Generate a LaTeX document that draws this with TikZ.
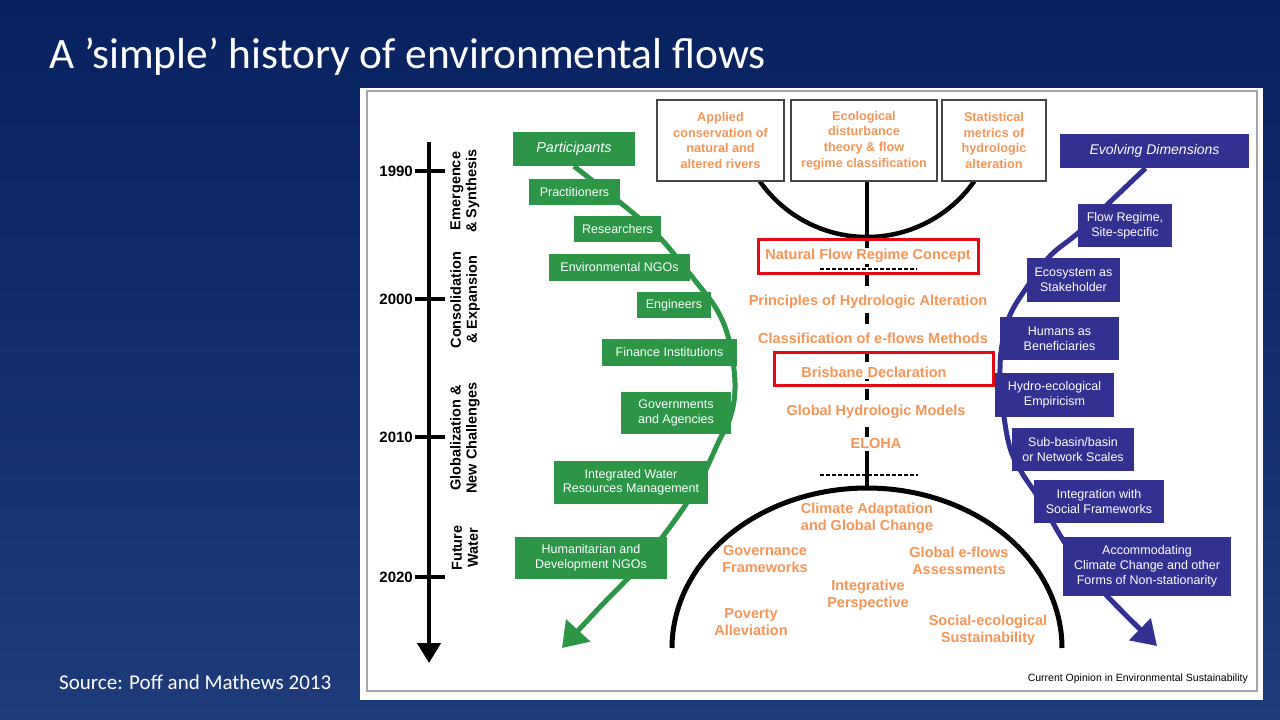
\documentclass[tikz,border=0pt]{standalone}
\usepackage{fontspec}
\setmainfont{Liberation Sans}
\newfontfamily\calib{Carlito}
\usetikzlibrary{arrows.meta}
\definecolor{gfill}{RGB}{44,150,70}
\definecolor{bfill}{RGB}{50,48,145}
\definecolor{orng}{RGB}{243,150,85}
\definecolor{redbox}{RGB}{228,10,20}
\definecolor{bgtop}{RGB}{8,34,96}
\definecolor{bgmid}{RGB}{42,78,148}
\definecolor{bgbot}{RGB}{30,60,122}
\pgfdeclarelayer{back}
\pgfdeclarelayer{mid}
\pgfsetlayers{back,mid,main}
\begin{document}
\begin{tikzpicture}[x=1pt,y=-1pt,
  gbox/.style={fill=gfill,text=white,font=\fontsize{12.5}{14.5}\selectfont,align=center,inner sep=0pt},
  bbox/.style={fill=bfill,text=white,font=\fontsize{12.5}{15}\selectfont,align=center,inner sep=0pt},
  obox/.style={draw=gray!55!black,line width=1.5,fill=white,text=orng,font=\bfseries\fontsize{12.7}{15.6}\selectfont,align=center,inner sep=0pt},
  ctext/.style={text=orng,font=\bfseries\fontsize{14.5}{17}\selectfont,fill=white,inner sep=1.5pt},
  atext/.style={text=orng,font=\bfseries\fontsize{14.5}{17}\selectfont,align=center,inner sep=0pt},
  phase/.style={rotate=90,font=\bfseries\fontsize{14.5}{16}\selectfont,align=center,inner sep=0pt},
  year/.style={anchor=east,font=\bfseries\fontsize{15}{17}\selectfont,inner sep=0pt},
  redframe/.style={draw=redbox,line width=3,inner sep=0pt},
  tick/.style={line width=4},
  bigline/.style={line width=4.5},
]
\useasboundingbox (0,0) rectangle (1280,720);
\begin{pgfonlayer}{back}
\shade[top color=bgtop,middle color=bgmid,bottom color=bgbot] (0,0) rectangle (1280,720);
\fill[white] (360,88) rectangle (1263,700);
\draw[gray!70,line width=1.2] (367,91) rectangle (1257,691);
\end{pgfonlayer}

% title and source
\node[anchor=base west,text=white,font=\calib\fontsize{43.4}{48}\selectfont,inner sep=0pt] (title) at (49,68) {A ’simple’ history of environmental flows};
\node[anchor=base west,text=white,font=\calib\fontsize{21}{24}\selectfont,inner sep=0pt] (source) at (59,689) {Source: Poff and Mathews 2013};
\node[anchor=east,font=\fontsize{10.5}{12}\selectfont,inner sep=0pt] (journal) at (1248,679) {Current Opinion in Environmental Sustainability};

% timeline
\coordinate (tlTop) at (429,142);
\coordinate (tlEnd) at (429,663);
\draw[bigline,-{Triangle[length=20pt,width=23pt]}] (tlTop) -- (tlEnd);
\foreach \yy/\lab in {171/1990,299/2000,437/2010,577/2020}{
  \coordinate (tkL\lab) at (415,\yy);
  \coordinate (tkR\lab) at (445,\yy);
  \draw[tick] (tkL\lab) -- (tkR\lab);
  \node[year] (yr\lab) at (413,\yy) {\lab};
}
\node[phase] (ph1) at (465,191) {Emergence\\\& Synthesis};
\node[phase] (ph2) at (465,300) {Consolidation\\\& Expansion};
\node[phase] (ph3) at (465,438) {Globalization \&\\New Challenges};
\node[phase] (ph4) at (465,548) {Future\\Water};

% green boxes
\node[gbox,minimum width=122,minimum height=34,font=\itshape\fontsize{14.4}{16}\selectfont] (part) at (574,149) {Participants};
\node[gbox,minimum width=91,minimum height=26] (prac) at (574.5,192) {Practitioners};
\node[gbox,minimum width=87,minimum height=26] (res) at (617.5,229) {Researchers};
\node[gbox,minimum width=141,minimum height=27] (engo) at (619.5,267.5) {Environmental NGOs};
\node[gbox,minimum width=74,minimum height=26] (eng) at (674,305) {Engineers};
\node[gbox,minimum width=135,minimum height=27] (fin) at (669.5,352.5) {Finance Institutions};
\node[gbox,minimum width=110,minimum height=42] (gov) at (676,413) {Governments\\and Agencies};
\node[gbox,minimum width=154,minimum height=43] (iwrm) at (631,482.5) {Integrated Water\\Resources Management};
\node[gbox,minimum width=152,minimum height=42] (hum) at (591,558) {Humanitarian and\\Development NGOs};
\coordinate (gEnd) at (562,648);

% blue boxes
\node[bbox,minimum width=189,minimum height=34,font=\itshape\fontsize{14}{16}\selectfont] (evo) at (1154.5,151) {Evolving Dimensions};
\node[bbox,minimum width=94,minimum height=43] (flow) at (1125,225.5) {Flow Regime,\\Site-specific};
\node[bbox,minimum width=93,minimum height=44] (eco) at (1073.5,280) {Ecosystem as\\Stakeholder};
\node[bbox,minimum width=119,minimum height=43] (humans) at (1059.5,338.5) {Humans as\\Beneficiaries};
\node[bbox,minimum width=119,minimum height=44] (hydro) at (1054.5,395) {Hydro-ecological\\Empiricism};
\node[bbox,minimum width=122,minimum height=43] (sub) at (1073,449.5) {Sub-basin/basin\\or Network Scales};
\node[bbox,minimum width=130,minimum height=43] (integ) at (1099,501.5) {Integration with\\Social Frameworks};
\node[bbox,minimum width=168,minimum height=59] (accom) at (1147,566.5) {Accommodating\\Climate Change and other\\Forms of Non-stationarity};
\coordinate (bEnd) at (1157,646);

% top boxes
\node[obox,minimum width=127,minimum height=81] (b1) at (720.5,140.5) {Applied\\conservation of\\natural and\\altered rivers};
\node[obox,minimum width=146,minimum height=81] (b2) at (864,140.5) {Ecological\\disturbance\\theory \& flow\\regime classification};
\node[obox,minimum width=104,minimum height=81] (b3) at (994,140.5) {Statistical\\metrics of\\hydrologic\\alteration};

% central stem coordinates
\coordinate (stemTop) at (867,181);
\coordinate (bowlLow) at (867,237);
\coordinate (dashEnd) at (867,452);
\coordinate (domeTop) at (867,488);
\coordinate (h1L) at (820,269);
\coordinate (h1R) at (917,269);
\coordinate (h2L) at (820,475);
\coordinate (h2R) at (918,475);

\begin{pgfonlayer}{mid}
\draw[gfill,line width=5,-{Triangle[length=24pt,width=32pt]}]
  plot[smooth,tension=0.6] coordinates {(part.south) (633,213) (662,240) (697,283) (717,310) (729,340) (735,383) (731,415) (718,443) (703,475) (680,513) (640,565) (600,607) (gEnd)};
\draw[bfill,line width=5,-{Triangle[length=24pt,width=30pt]}]
  plot[smooth,tension=0.6] coordinates {([xshift=-9pt]evo.south) (1110,202) (1078,233) (1050,256) (1027,287) (1010,315) (1002,345) (1000,375) (1003,410) (1010,448) (1022,473) (1040,500) (1063,540) (1085,570) (1108,597) (bEnd)};
\draw[line width=4.5] plot[domain=35:145,samples=80] ({867+131*cos(\x)},{106+131*sin(\x)});
\draw[line width=5] plot[domain=180:360,samples=120] ({867+195*cos(\x)},{648+160*sin(\x)});
\draw[bigline] (stemTop) -- (bowlLow);
\draw[bigline,dash pattern=on 11pt off 8pt] (bowlLow) -- (dashEnd);
\draw[bigline] (dashEnd) -- (domeTop);
\draw[line width=1.8,dash pattern=on 4pt off 2pt] (h1L) -- (h1R);
\draw[line width=1.8,dash pattern=on 4pt off 2pt] (h2L) -- (h2R);
\end{pgfonlayer}

% centre texts
\node[ctext] (nfr) at (868,256) {Natural Flow Regime Concept};
\node[ctext] (pha) at (868,302) {Principles of Hydrologic Alteration};
\node[ctext] (cem) at (873,338) {Classification of e-flows Methods};
\node[ctext] (bris) at (874,372) {Brisbane Declaration};
\node[ctext] (ghm) at (876,412) {Global Hydrologic Models};
\node[ctext] (eloha) at (876,444) {ELOHA};
\node[redframe,minimum width=220,minimum height=34] (r1) at (868,256) {};
\node[redframe,minimum width=219,minimum height=33] (r2) at (883.5,368.5) {};

% dome texts
\node[atext] (cag) at (867,518) {Climate Adaptation\\and Global Change};
\node[atext] (gf) at (765,559.5) {Governance\\Frameworks};
\node[atext] (gea) at (959,560.5) {Global e-flows\\Assessments};
\node[atext] (ip) at (868,595.5) {Integrative\\Perspective};
\node[atext] (pa) at (751,622.5) {Poverty\\Alleviation};
\node[atext] (ses) at (988,630.5) {Social-ecological\\Sustainability};
\end{tikzpicture}
\end{document}
